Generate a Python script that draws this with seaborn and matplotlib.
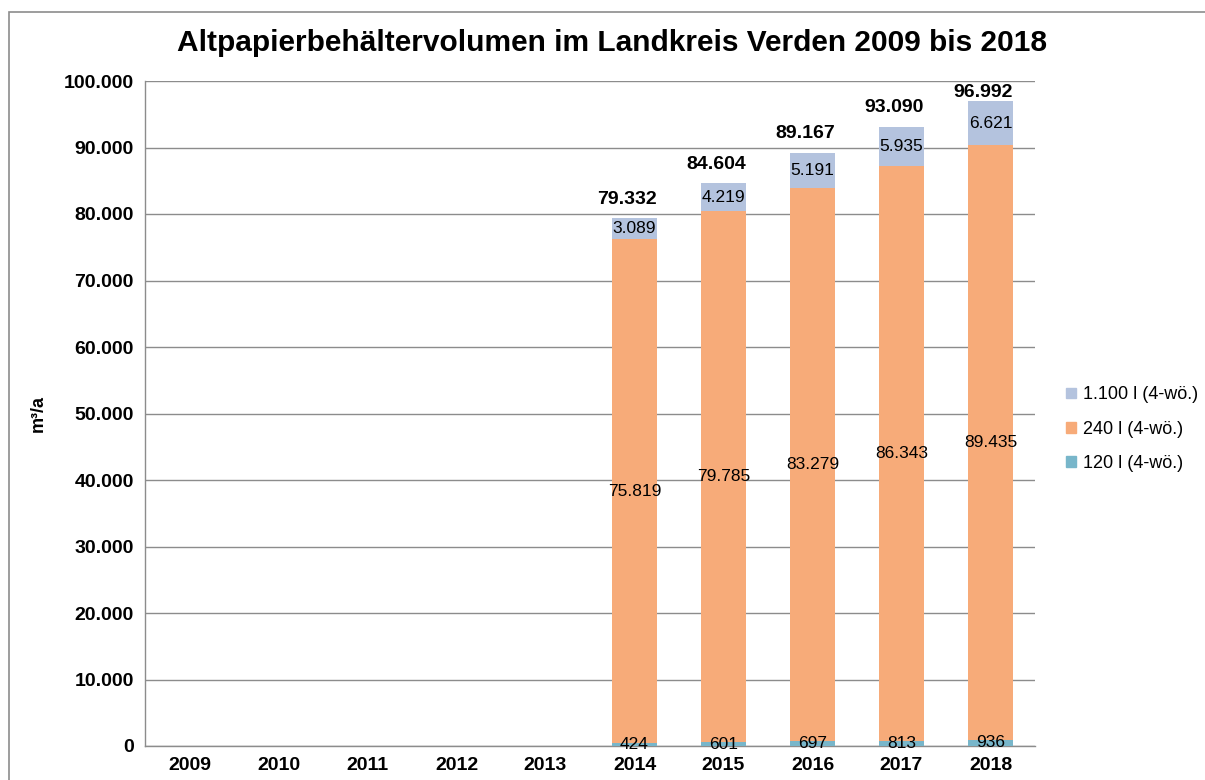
import numpy as np
import matplotlib
matplotlib.use('Agg')
import matplotlib.pyplot as plt
import seaborn as sns
from matplotlib.patches import Patch, Rectangle
from matplotlib.ticker import FuncFormatter, MultipleLocator

years = ['2009', '2010', '2011', '2012', '2013', '2014', '2015', '2016', '2017', '2018']
vol_120 = [0, 0, 0, 0, 0, 424, 601, 697, 813, 936]
vol_240 = [0, 0, 0, 0, 0, 75819, 79785, 83279, 86343, 89435]
vol_1100 = [0, 0, 0, 0, 0, 3089, 4219, 5191, 5935, 6621]
# totals as printed in the chart (source rounding differs slightly from the sum)
vol_total = [0, 0, 0, 0, 0, 79332, 84604, 89167, 93090, 96992]
series_names = ['1.100 l (4-wö.)', '240 l (4-wö.)', '120 l (4-wö.)']

c_1100 = '#B4C3DE'
c_240 = '#F7AB79'
c_120 = '#78B6CA'
grey = '#8c8c8c'


def de_fmt(v):
    return f"{v:,.0f}".replace(',', '.')


sns.set_style('white')
plt.rcParams['font.family'] = ['Liberation Sans', 'DejaVu Sans']
plt.rcParams['text.color'] = 'black'
plt.rcParams['xtick.color'] = 'black'
plt.rcParams['ytick.color'] = 'black'
plt.rcParams['axes.labelcolor'] = 'black'

a120 = np.array(vol_120)
a240 = np.array(vol_240)
a1100 = np.array(vol_1100)
cum_240 = a120 + a240
stack_top = cum_240 + a1100

fig = plt.figure(figsize=(12.05, 7.8), dpi=100)
ax = fig.add_axes([145 / 1205, 1 - 746 / 780, (1035 - 145) / 1205, (746 - 81) / 780])

# outer chart frame (cut off at right/bottom like the screenshot)
fig.patches.append(Rectangle((9 / 1205, -0.1), 1.2, 1.1 - 12 / 780,
                             transform=fig.transFigure, fill=False,
                             edgecolor=grey, lw=1.2, zorder=0))

# stacked bars: draw cumulative heights, largest first
bar_kw = dict(saturation=1, width=0.5, ax=ax, linewidth=0, zorder=3)
sns.barplot(x=years, y=stack_top, color=c_1100, **bar_kw)
sns.barplot(x=years, y=cum_240, color=c_240, **bar_kw)
sns.barplot(x=years, y=a120, color=c_120, **bar_kw)

ax.set_ylim(0, 100000)
ax.set_xlim(-0.5, len(years) - 0.5)
ax.yaxis.set_major_locator(MultipleLocator(10000))
ax.yaxis.set_major_formatter(FuncFormatter(lambda v, p: de_fmt(v)))
ax.grid(axis='y', color=grey, lw=1, zorder=0)
ax.set_axisbelow(True)

for s in ['top', 'right']:
    ax.spines[s].set_visible(False)
for s in ['left', 'bottom']:
    ax.spines[s].set_color(grey)
    ax.spines[s].set_linewidth(1)

ax.tick_params(axis='y', length=5, color=grey, labelsize=14, pad=3)
ax.tick_params(axis='x', which='major', length=0, labelsize=14, pad=8)
ax.set_xticks(np.arange(-0.5, len(years)), minor=True)
ax.tick_params(axis='x', which='minor', length=5, color=grey)
for lab in ax.get_xticklabels() + ax.get_yticklabels():
    lab.set_fontweight('bold')

ax.set_xlabel('')
ax.set_ylabel('m³/a', fontsize=13, fontweight='bold', labelpad=12)

for i in range(len(years)):
    if vol_total[i] == 0:
        continue
    ax.text(i, a120[i] / 2, de_fmt(a120[i]), ha='center', va='center', fontsize=12.5, zorder=5)
    ax.text(i, a120[i] + a240[i] / 2, de_fmt(a240[i]), ha='center', va='center', fontsize=12.5, zorder=5)
    ax.text(i, cum_240[i] + a1100[i] / 2, de_fmt(a1100[i]), ha='center', va='center', fontsize=12.5, zorder=5)
    # total label above the bar, kept inside the plot area
    ty = min(stack_top[i] + 2900, 98300)
    ax.text(i - 0.08, ty, de_fmt(vol_total[i]), ha='center', va='center',
            fontsize=14, fontweight='bold', zorder=5)

fig.text(612 / 1205, 1 - 43 / 780, 'Altpapierbehältervolumen im Landkreis Verden 2009 bis 2018',
         ha='center', va='center', fontsize=21.5, fontweight='bold')

handles = [Patch(color=c) for c in [c_1100, c_240, c_120]]
fig.legend(handles, series_names, loc='center left', bbox_to_anchor=(1050 / 1205, 1 - 429 / 780),
           frameon=False, fontsize=13, handlelength=0.55, handleheight=0.55, handletextpad=0.4,
           labelspacing=0.95)

fig.savefig('out.png', dpi=100)
